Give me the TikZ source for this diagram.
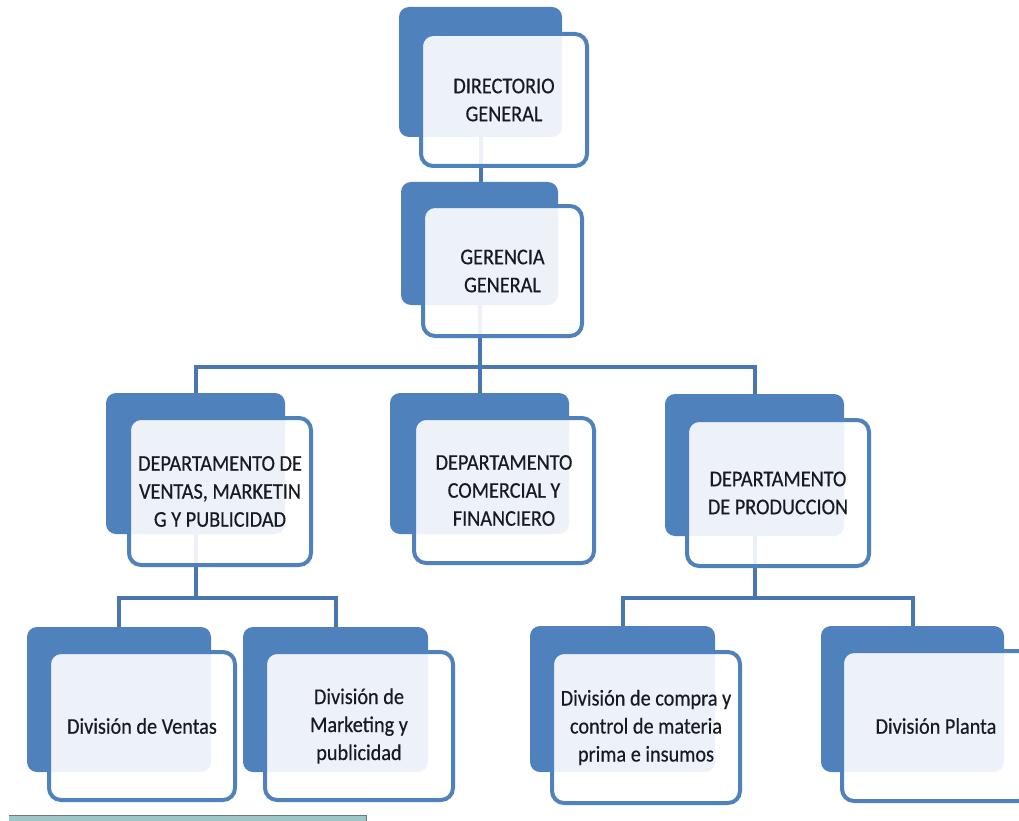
\documentclass[tikz,border=0pt]{standalone}
\usepackage{fontspec}
\setmainfont{Carlito}
\newfontfamily\boxfont[FakeStretch=0.9,FakeBold=0.4]{Carlito}
\definecolor{boxblue}{RGB}{79,129,189}
\definecolor{linkblue}{RGB}{72,118,178}
\definecolor{txt}{RGB}{25,25,35}
\definecolor{barfill}{RGB}{158,198,198}
\definecolor{baredge}{RGB}{110,120,120}
\pgfdeclarelayer{bg}
\pgfsetlayers{bg,main}
\tikzset{
  back/.style={rectangle, fill=boxblue, rounded corners=10pt, inner sep=0pt},
  front/.style={rectangle, draw=boxblue, line width=4pt, fill=white, fill opacity=0.9,
    text opacity=1, rounded corners=12pt, text=txt, align=center,
    font=\boxfont\fontsize{22.5}{28}\selectfont, inner sep=0pt},
  link/.style={draw=linkblue, line width=4pt}
}
\begin{document}
\begin{tikzpicture}[x=1pt,y=-1pt]
\useasboundingbox (0,0) rectangle (1019,821);
% level 1
\node[back, minimum width=163, minimum height=130] (dirb) at (480.5,72) {};
\node[front, minimum width=166, minimum height=132] (dirf) at (504,100) {DIRECTORIO\\GENERAL};
% level 2
\node[back, minimum width=157, minimum height=123] (gerb) at (479.5,243.5) {};
\node[front, minimum width=159, minimum height=130] (gerf) at (502.5,271) {GERENCIA\\GENERAL};
% level 3
\node[back, minimum width=179, minimum height=141] (venb) at (195.5,463.5) {};
\node[front, minimum width=182, minimum height=147] (venf) at (220,491.5) {DEPARTAMENTO DE\\VENTAS, MARKETIN\\G Y PUBLICIDAD};
\node[back, minimum width=179, minimum height=141] (comb) at (479.5,463.5) {};
\node[front, minimum width=180, minimum height=145] (comf) at (504,490.5) {DEPARTAMENTO\\COMERCIAL Y\\FINANCIERO};
\node[back, minimum width=179, minimum height=142] (prodb) at (754.5,465) {};
\node[front, minimum width=182, minimum height=146] (prodf) at (778,493) {DEPARTAMENTO\\DE PRODUCCION};
% level 4
\node[back, minimum width=184, minimum height=145] (divvb) at (119,699.5) {};
\node[front, minimum width=186, minimum height=148] (divvf) at (142,726) {División de Ventas};
\node[back, minimum width=185, minimum height=145] (divmb) at (335.5,699.5) {};
\node[front, minimum width=188, minimum height=148] (divmf) at (359,726) {División de\\Marketing y\\publicidad};
\node[back, minimum width=185, minimum height=146] (divcb) at (622.5,699) {};
\node[front, minimum width=188, minimum height=151] (divcf) at (646,727.5) {División de compra y\\control de materia\\prima e insumos};
\node[back, minimum width=183, minimum height=146] (divpb) at (912.5,699) {};
\node[front, minimum width=188, minimum height=150] (divpf) at (936,726) {División Planta};
% connectors
\begin{pgfonlayer}{bg}
  \coordinate (bus1) at (479.5,367);
  \coordinate (bus2) at (195.5,598);
  \coordinate (bus3) at (754.5,598);
  \draw[link] (dirb.center) -- (dirb.center |- gerb.center);
  \draw[link] (gerb.center) -- (comb.center);
  \draw[link] (venb.center) |- (bus1) -| (prodb.center);
  \draw[link] (venb.center) -- (bus2);
  \draw[link] (divvb.center) |- (bus2) -| (divmb.center);
  \draw[link] (prodb.center) -- (bus3);
  \draw[link] (divcb.center) |- (bus3) -| (divpb.center);
\end{pgfonlayer}
% bottom strip
\fill[barfill] (9,815) rectangle (367,821);
\draw[baredge, line width=1.2pt] (9,815.6) -- (366.4,815.6) -- (366.4,821);
\end{tikzpicture}
\end{document}
